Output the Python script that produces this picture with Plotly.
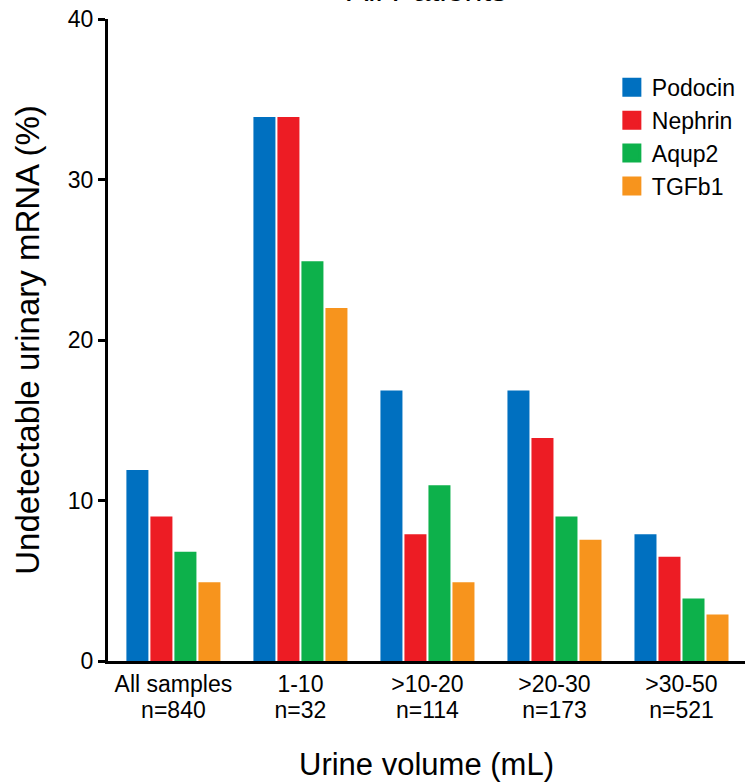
import plotly.graph_objects as go

categories = ["All samples", "1-10", ">10-20", ">20-30", ">30-50"]
counts = ["n=840", "n=32", "n=114", "n=173", "n=521"]
podocin = [11.9, 33.9, 16.85, 16.85, 7.9]
nephrin = [9.0, 33.9, 7.9, 13.9, 6.5]
aqup2 = [6.8, 24.9, 10.95, 9.0, 3.9]
tgfb1 = [4.9, 22.0, 4.9, 7.55, 2.9]
series_names = ["Podocin", "Nephrin", "Aqup2", "TGFb1"]
colors = ["#0070c0", "#ed1c24", "#0db14b", "#f7941d"]
yticks = [0, 10, 20, 30, 40]

FONT = "Liberation Sans, Arial, sans-serif"
xpos = list(range(len(categories)))

fig = go.Figure()
for name, vals, col in zip(series_names, [podocin, nephrin, aqup2, tgfb1], colors):
    fig.add_trace(go.Bar(x=xpos, y=vals, name=name, marker=dict(color=col, line=dict(width=0)),
                         showlegend=False))
for i, (name, col) in enumerate(zip(series_names, colors)):
    fig.add_trace(go.Scatter(x=[None], y=[None], mode="markers", name=name,
                             marker=dict(symbol="square", size=16, color=col,
                                         line=dict(color=col, width=3)),
                             legendgroup=f"g{i}", showlegend=True))
# invisible trace for second x axis (count labels)
fig.add_trace(go.Scatter(x=xpos, y=[0] * len(xpos), xaxis="x2", mode="markers",
                         marker=dict(opacity=0), showlegend=False, hoverinfo="skip"))

xr = [-0.515, 4.5]
fig.update_layout(
    width=746, height=782,
    margin=dict(l=108, r=1, t=19, b=121, autoexpand=False),
    paper_bgcolor="white", plot_bgcolor="white",
    font=dict(family=FONT, color="black"),
    barmode="group", bargap=0.244, bargroupgap=0.083,
    showlegend=True,
    legend=dict(x=0.791, y=0.927, xanchor="left", yanchor="top",
                font=dict(size=23, family=FONT), tracegroupgap=0,
                bgcolor="rgba(0,0,0,0)"),
    xaxis=dict(range=xr, tickvals=xpos, ticktext=categories, showline=True, automargin=False,
               linecolor="black", linewidth=3, ticks="", showgrid=False, zeroline=False,
               tickfont=dict(size=23, family=FONT),
               title=dict(text="Urine volume (mL)", font=dict(size=31, family=FONT), standoff=59)),
    xaxis2=dict(range=xr, overlaying="x", side="bottom", anchor="y", tickvals=xpos, automargin=False,
                ticktext=counts, showline=False, ticks="", showgrid=False, zeroline=False,
                tickfont=dict(size=23, family=FONT), ticklabelstandoff=33),
    yaxis=dict(range=[0, 40], tickvals=yticks, showline=True, linecolor="black", linewidth=3,
               ticks="outside", ticklen=7, tickwidth=3, tickcolor="black", showgrid=False,
               zeroline=False, tickfont=dict(size=23, family=FONT), automargin=False,
               title=dict(text="Undetectable urinary mRNA (%)", font=dict(size=33, family=FONT),
                          standoff=19)),
)
fig.add_annotation(text="All Patients", xref="paper", yref="paper", x=0.5, y=1,
                   yanchor="middle", yshift=29, showarrow=False,
                   font=dict(size=32, family=FONT, color="black"))
fig.write_html("out.html", config={"displayModeBar": False},
               post_script="document.body.style.margin='0px';document.body.style.overflow='hidden';")
